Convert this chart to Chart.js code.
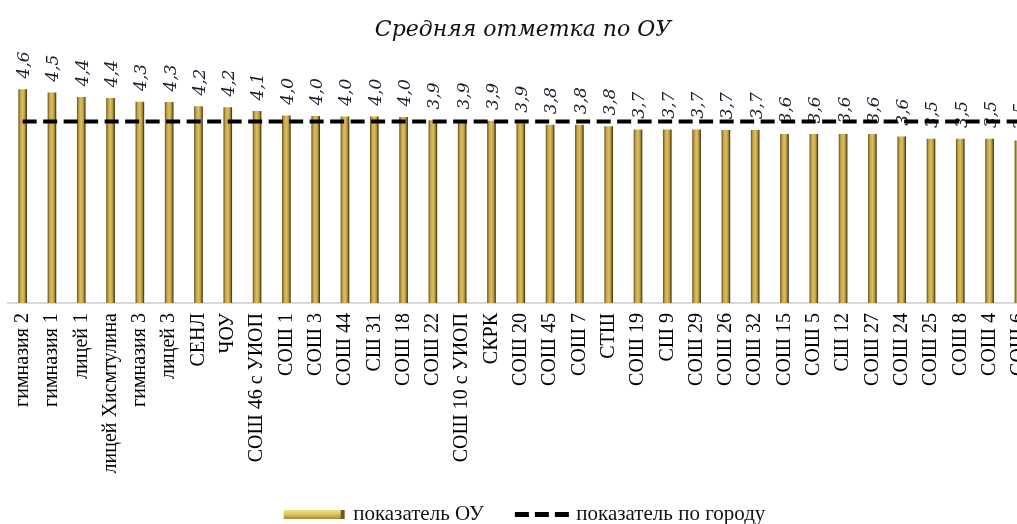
<!DOCTYPE html>
<html>
<head>
<meta charset="utf-8">
<script src="https://cdn.jsdelivr.net/npm/chart.js@4.4.1/dist/chart.umd.min.js"></script>
<style>
    html, body { margin: 0; padding: 0; background: #fff; overflow: hidden; }
    #wrap { width: 1053px; height: 535px; }
</style>
</head>
<body>
<div id="wrap"><canvas id="chart" width="1053" height="535"></canvas></div>
<script>
const titleText = "Средняя отметка по ОУ";
const seriesNames = ["показатель ОУ", "показатель по городу"];

const schools = [
    "гимназия 2", "гимназия 1", "лицей 1", "лицей Хисмтулина", "гимназия 3",
    "лицей 3", "СЕНЛ", "ЧОУ", "СОШ 46 с УИОП", "СОШ 1",
    "СОШ 3", "СОШ 44", "СШ 31", "СОШ 18", "СОШ 22",
    "СОШ 10 с УИОП", "СКРК", "СОШ 20", "СОШ 45", "СОШ 7",
    "СТШ", "СОШ 19", "СШ 9", "СОШ 29", "СОШ 26",
    "СОШ 32", "СОШ 15", "СОШ 5", "СШ 12", "СОШ 27",
    "СОШ 24", "СОШ 25", "СОШ 8", "СОШ 4", "СОШ 6"
];

const schoolAvg = [
    4.61, 4.54, 4.44, 4.42, 4.34,
    4.33, 4.24, 4.22, 4.14, 4.04,
    4.03, 4.02, 4.02, 4.01, 3.94,
    3.94, 3.93, 3.87, 3.84, 3.84,
    3.81, 3.74, 3.74, 3.74, 3.73,
    3.73, 3.64, 3.64, 3.64, 3.64,
    3.59, 3.54, 3.54, 3.54, 3.50
];

const cityAvg = 3.92;
const cityLine = schools.map(() => cityAvg);

const serif = '"Liberation Serif", "Times New Roman", serif';

// gold bar gradient across the bar width
function barFill(ctx) {
    const chart = ctx.chart;
    const xs = chart.scales.x;
    if (!xs || ctx.dataIndex === undefined) return "#c4a447";
    const cx = xs.getPixelForValue(ctx.dataIndex);
    if (!Number.isFinite(cx)) return "#c4a447";
    const g = chart.ctx.createLinearGradient(cx - 4, 0, cx + 4, 0);
    g.addColorStop(0, "#6e5a24");
    g.addColorStop(0.2, "#c2a245");
    g.addColorStop(0.5, "#dcc060");
    g.addColorStop(0.78, "#b6963c");
    g.addColorStop(1, "#43350f");
    return g;
}

// legend swatches (drawn a bit right of the legend box so the text sits close)
const barSwatch = document.createElement("canvas");
barSwatch.width = 70;
barSwatch.height = 9;
(function () {
    const c = barSwatch.getContext("2d");
    const g = c.createLinearGradient(0, 0, 0, 9);
    g.addColorStop(0, "#f3e08a");
    g.addColorStop(0.5, "#dcc264");
    g.addColorStop(1, "#a88a30");
    c.fillStyle = g;
    c.fillRect(7, 0, 61, 9);
    c.fillStyle = "#6e5a24";
    c.fillRect(64, 0, 4, 9);
})();

const lineSwatch = document.createElement("canvas");
lineSwatch.width = 70;
lineSwatch.height = 5;
(function () {
    const c = lineSwatch.getContext("2d");
    c.fillStyle = "#000";
    c.fillRect(15, 0, 14, 5);
    c.fillRect(35, 0, 14, 5);
    c.fillRect(55, 0, 14, 5);
})();

const swatches = [barSwatch, lineSwatch];

const valueLabels = {
    id: "valueLabels",
    afterDatasetDraw(chart, args) {
        if (args.index !== 0) return;
        const c = chart.ctx;
        c.save();
        c.font = 'italic 17px "DejaVu Serif"';
        c.fillStyle = "#1c1c2c";
        c.textAlign = "left";
        c.textBaseline = "middle";
        args.meta.data.forEach((bar, i) => {
            c.save();
            c.translate(bar.x + 2, bar.y - 11);
            c.rotate(-Math.PI / 2);
            c.fillText(schoolAvg[i].toFixed(1).replace(".", ","), 0, 0);
            c.restore();
        });
        c.restore();
    }
};

new Chart(document.getElementById("chart"), {
    type: "bar",
    data: {
        labels: schools,
        datasets: [
            {
                label: seriesNames[0],
                data: schoolAvg,
                backgroundColor: barFill,
                barThickness: 8,
                order: 1
            },
            {
                type: "line",
                label: seriesNames[1],
                data: cityLine,
                borderColor: "#000",
                borderWidth: 4,
                borderDash: [14, 6.5],
                pointRadius: 0,
                fill: false,
                order: 0
            }
        ]
    },
    options: {
        responsive: false,
        animation: false,
        devicePixelRatio: 1,
        layout: { padding: { left: 0, right: 7, top: 0, bottom: 0 } },
        plugins: {
            title: {
                display: true,
                text: titleText,
                color: "#111",
                font: { family: '"DejaVu Serif"', style: "italic", size: 22, weight: "normal" },
                padding: { top: 17, bottom: 28 }
            },
            legend: {
                position: "bottom",
                labels: {
                    color: "#111",
                    font: { family: serif, size: 21 },
                    usePointStyle: true,
                    pointStyleWidth: 62,
                    padding: 20,
                    sort: (a, b) => a.datasetIndex - b.datasetIndex,
                    generateLabels(chart) {
                        const items = Chart.defaults.plugins.legend.labels.generateLabels(chart);
                        items.forEach(item => { item.pointStyle = swatches[item.datasetIndex]; });
                        return items;
                    }
                }
            },
            tooltip: { enabled: false }
        },
        scales: {
            x: {
                grid: { display: false, drawTicks: false },
                border: { display: true, color: "#d9d9d9", width: 2 },
                ticks: {
                    color: "#000",
                    font: { family: serif, size: 20 },
                    padding: 10,
                    minRotation: 90,
                    maxRotation: 90,
                    autoSkip: false
                },
                afterFit(scale) { scale.height = 181; }
            },
            y: {
                min: 0,
                max: 5,
                ticks: { display: false },
                grid: { display: false },
                border: { display: false },
                afterFit(scale) { scale.width = 8; }
            }
        }
    },
    plugins: [valueLabels]
});
</script>
</body>
</html>
